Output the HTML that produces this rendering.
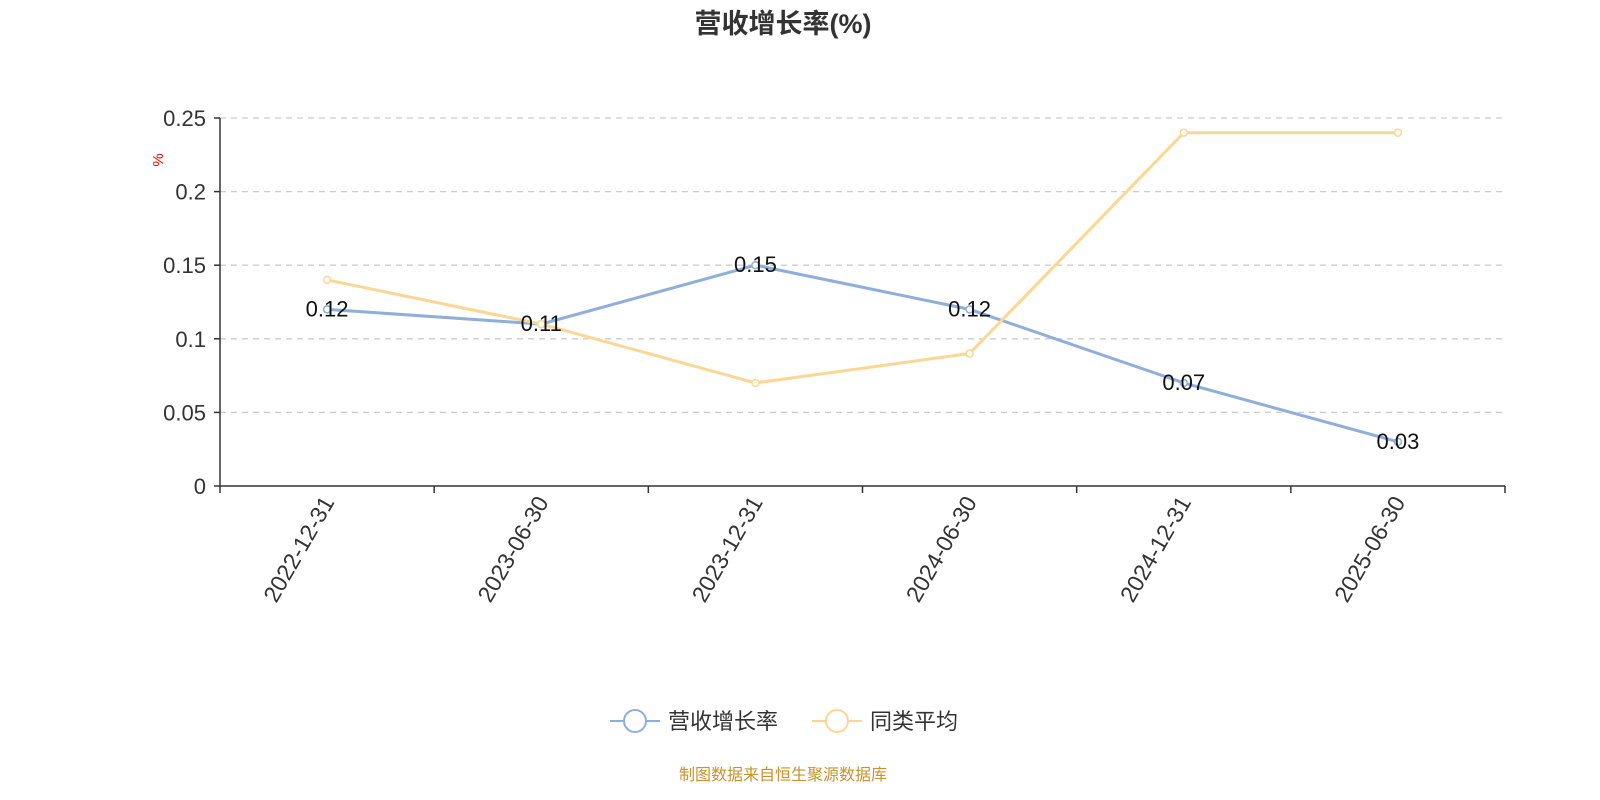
<!DOCTYPE html>
<html><head><meta charset="utf-8"><style>
html,body{margin:0;padding:0;background:#fff;overflow:hidden;width:1600px;height:800px;}
svg{display:block;}
svg text{font-family:"Liberation Sans","Noto Sans CJK SC",sans-serif;}
</style></head><body>
<svg width="1600" height="800" viewBox="0 0 1600 800">
<text x="783" y="33" text-anchor="middle" font-size="27" font-weight="bold" fill="#333">营收增长率(%)</text>
<text transform="translate(163,160) rotate(-90)" text-anchor="middle" font-size="15" fill="#e00">%</text>
<g id="grid"></g><g id="axes"></g><g id="series"></g><g id="labels"></g>
<g>
 <g>
  <line x1="610" y1="721" x2="660" y2="721" stroke="#8eaedb" stroke-width="2"/>
  <circle cx="635" cy="721" r="11" fill="#fff" stroke="#8eaedb" stroke-width="2"/>
  <text x="668" y="729" font-size="22" fill="#333">营收增长率</text>
 </g>
 <g>
  <line x1="812" y1="721" x2="862" y2="721" stroke="#fbd793" stroke-width="2"/>
  <circle cx="837" cy="721" r="11" fill="#fff" stroke="#fbd793" stroke-width="2"/>
  <text x="870" y="729" font-size="22" fill="#333">同类平均</text>
 </g>
</g>
<text x="783" y="780" text-anchor="middle" font-size="16" fill="#c8922e">制图数据来自恒生聚源数据库</text>
</svg>
<script>
const categories=["2022-12-31","2023-06-30","2023-12-31","2024-06-30","2024-12-31","2025-06-30"];
const revenueGrowth=[0.12,0.11,0.15,0.12,0.07,0.03];
const peerAverage=[0.14,0.11,0.07,0.09,0.24,0.24];
const yTicks=[0,0.05,0.1,0.15,0.2,0.25];
const yTickLabels=["0","0.05","0.1","0.15","0.2","0.25"];
const NS="http://www.w3.org/2000/svg";
const L=220,R=1505,T=118,B=486,yMax=0.25;
const bw=(R-L)/categories.length;
const xs=i=>L+bw*(i+0.5);
const ys=v=>B-(v/yMax)*(B-T);
function mk(tag,attrs,parent,txt){const e=document.createElementNS(NS,tag);for(const k in attrs)e.setAttribute(k,attrs[k]);if(txt!==undefined)e.textContent=txt;document.getElementById(parent).appendChild(e);return e;}
yTicks.forEach((v,i)=>{
 if(v>0){const g=mk('line',{x1:L,x2:R,y1:ys(v),y2:ys(v),stroke:'#ccc','stroke-dasharray':'6,5','stroke-width':1.3},'grid');
 
 }
 const t=mk('line',{x1:L-6,x2:L,y1:ys(v),y2:ys(v),stroke:'#333','stroke-width':1.5},'axes');
 
 
 const tl=mk('text',{x:L-14,y:ys(v)+8,'text-anchor':'end','font-size':22,fill:'#333'},'axes',yTickLabels[i]);
 
 
});
const ya=mk('line',{x1:L,x2:L,y1:T,y2:B,stroke:'#333','stroke-width':1.5},'axes');


const xa=mk('line',{x1:L,x2:R,y1:B,y2:B,stroke:'#333','stroke-width':1.5},'axes');


for(let i=0;i<=categories.length;i++){
 const t=mk('line',{x1:L+bw*i,x2:L+bw*i,y1:B,y2:B+7,stroke:'#333','stroke-width':1.5},'axes');
 
 
}
categories.forEach((c,i)=>{
 const t=mk('text',{transform:`translate(${xs(i)+8},${B+16}) rotate(-60)`,'text-anchor':'end','font-size':23,fill:'#333'},'axes',c);
 
 
});
function series(vals,color,name){
 const p=mk('polyline',{points:vals.map((v,i)=>xs(i)+','+ys(v)).join(' '),fill:'none',stroke:color,'stroke-width':3},'series');
 
 
 vals.forEach((v,i)=>{
  const c=mk('circle',{cx:xs(i),cy:ys(v),r:3.5,fill:'#fff',stroke:color,'stroke-width':1.5},'series');
  
  
 });
}
series(revenueGrowth,'#8eaedb','revenue-growth');
series(peerAverage,'#fbd793','peer-average');
revenueGrowth.forEach((v,i)=>{
 const t=mk('text',{x:xs(i),y:ys(v)+7,'text-anchor':'middle','font-size':22,fill:'#111'},'labels',v.toFixed(2));
 
 
});
</script>
</body></html>
